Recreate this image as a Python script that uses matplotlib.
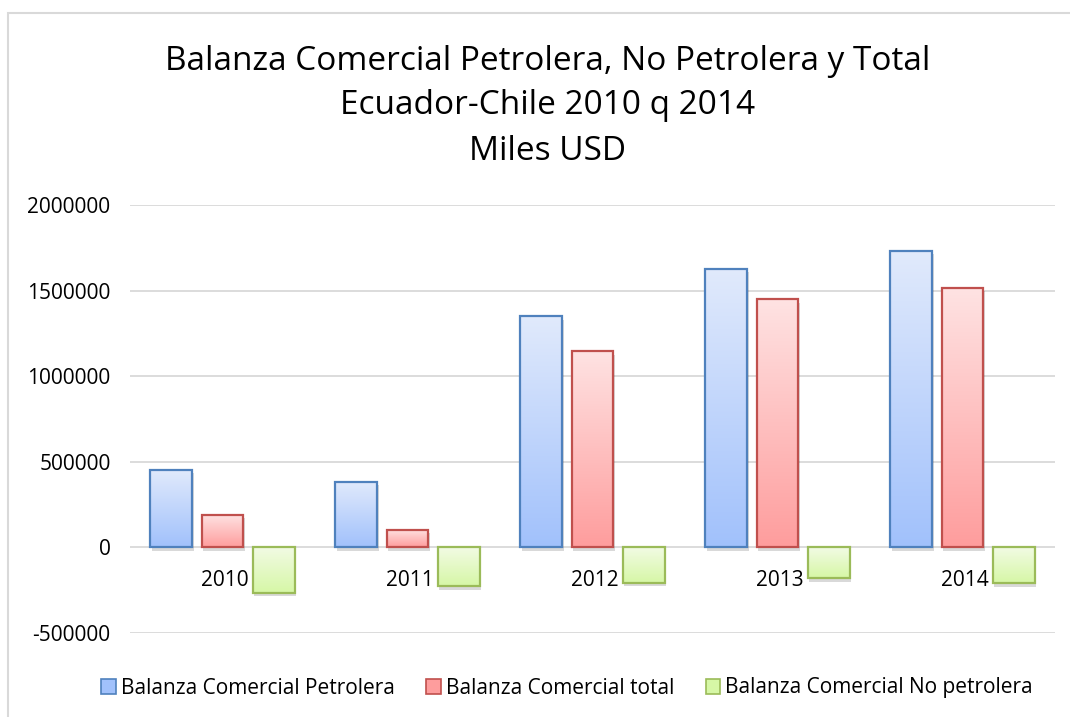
import numpy as np
import matplotlib
matplotlib.use("Agg")
import matplotlib.pyplot as plt
import matplotlib.patheffects as pe
from matplotlib.colors import LinearSegmentedColormap
from matplotlib.patches import Rectangle, Patch

years = ["2010", "2011", "2012", "2013", "2014"]
petrolera = [452000, 383000, 1350000, 1628000, 1732000]
total = [190000, 103000, 1147000, 1449000, 1517000]
no_petrolera = [-265000, -226000, -206000, -180000, -209000]

series_names = ["Balanza Comercial Petrolera", "Balanza Comercial total",
                "Balanza Comercial No petrolera"]
edge_colors = ["#4f81bd", "#c0504d", "#9bbb59"]
grad_colors = [("#e1eafc", "#a1c1fb"), ("#ffe3e3", "#fe9d9d"), ("#f2fbe4", "#d6f7a6")]
yticks = [-500000, 0, 500000, 1000000, 1500000, 2000000]

plt.rcParams['font.family'] = ['Open Sans', 'DejaVu Sans']

fig = plt.figure(figsize=(10.70, 7.17), dpi=100)
ax = fig.add_axes([130 / 1070, 1 - 633 / 717, 925 / 1070, 428 / 717])

# light frame like the Excel chart area
fig.patches.append(Rectangle((8 / 1070, -0.1), 1.2, (717 - 13) / 717 + 0.1,
                             transform=fig.transFigure, fill=False,
                             edgecolor="#d9d9d9", linewidth=1.5, zorder=0))

x = np.arange(len(years))
width = 0.227
step = 0.276
all_series = [petrolera, total, no_petrolera]

for k, vals in enumerate(all_series):
    bars = ax.bar(x + (k - 1) * step, vals, width, facecolor="none",
                  edgecolor=edge_colors[k], linewidth=1.6, zorder=3)
    cmap = LinearSegmentedColormap.from_list("g%d" % k, list(grad_colors[k]))
    grad = np.linspace(0, 1, 256).reshape(-1, 1)
    for b in bars:
        x0, y0 = b.get_x(), b.get_y()
        w, h = b.get_width(), b.get_height()
        ylo, yhi = min(y0, y0 + h), max(y0, y0 + h)
        # soft shadow under the bar
        sh = Rectangle((x0, y0), w, h, facecolor="none", edgecolor="none", zorder=2)
        ax.add_patch(sh)
        sh.set_path_effects([pe.SimplePatchShadow(offset=(1, -2.5), shadow_rgbFace="#000000",
                                                  alpha=0.15), pe.Normal()])
        im = ax.imshow(grad, cmap=cmap, aspect="auto", origin="upper",
                       extent=(x0, x0 + w, ylo, yhi), zorder=2.5)
        im.set_clip_path(b)

ax.set_xlim(-0.5, len(years) - 0.5)
ax.set_ylim(-500000, 2000000)
ax.set_yticks(yticks)
ax.set_yticklabels([str(v) for v in yticks], fontsize=15)
ax.tick_params(axis="y", length=0, pad=14)
ax.set_xticks([])
ax.grid(axis="y", color="#d9d9d9", linewidth=1.3, zorder=0)
ax.set_axisbelow(True)
for s in ax.spines.values():
    s.set_visible(False)

for i, yr in enumerate(years):
    ax.annotate(yr, (x[i], 0), xytext=(2, -24), textcoords="offset points",
                ha="center", va="center", fontsize=15)

fig.text(0.512, 1 - 62 / 717, "Balanza Comercial Petrolera, No Petrolera y Total",
         ha="center", va="center", fontsize=24)
fig.text(0.512, 1 - 106 / 717, "Ecuador-Chile 2010 q 2014",
         ha="center", va="center", fontsize=24)
fig.text(0.512, 1 - 151 / 717, "Miles USD",
         ha="center", va="center", fontsize=24)

handles = [Patch(facecolor=grad_colors[k][1], edgecolor=edge_colors[k], linewidth=1.2)
           for k in range(3)]
fig.legend(handles, series_names, loc="center", bbox_to_anchor=(0.530, 1 - 688 / 717),
           ncol=3, frameon=False, fontsize=15, handlelength=0.7, handleheight=0.7,
           handletextpad=0.25, columnspacing=1.5)

fig.savefig("out.png", dpi=100)
